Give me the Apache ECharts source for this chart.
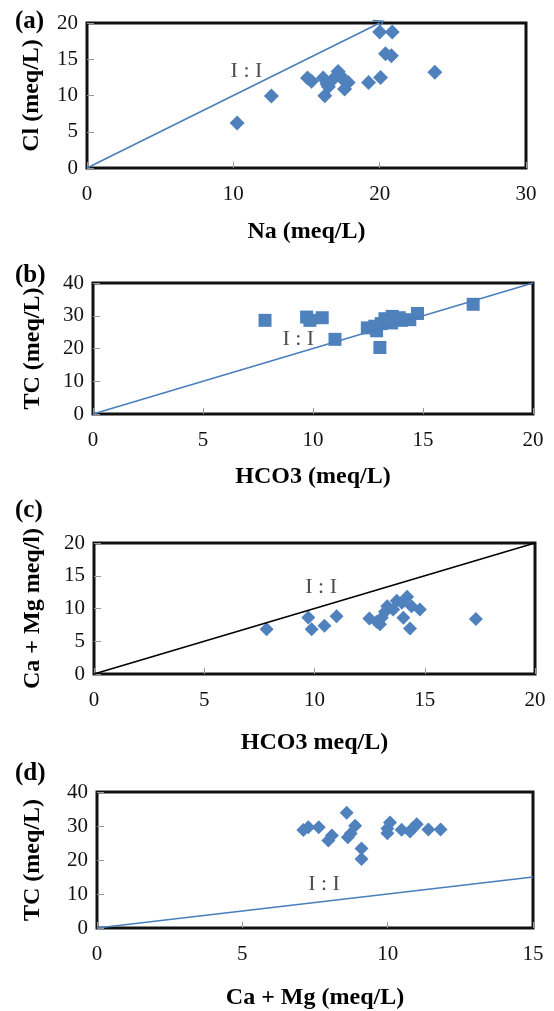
<!DOCTYPE html>
<html>
<head>
<meta charset="utf-8">
<script src="https://cdn.jsdelivr.net/npm/echarts@6/dist/echarts.min.js"></script>
<style>
  html, body { margin: 0; padding: 0; background: #fff; }
  #chart { width: 554px; height: 1011px; }
</style>
</head>
<body>
<div id="chart"></div>
<script>
// (a) Cl vs Na
const naA = [10.26, 12.6, 15.07, 15.34, 16.14, 16.25, 16.5, 16.8, 17.16, 17.5, 17.6, 17.85, 19.24, 20.06, 20.0, 20.86, 20.4, 20.8, 23.77, 16.4, 17.3];
const clA = [6.2, 9.93, 12.4, 11.95, 12.4, 9.98, 11.2, 12.2, 13.3, 12.2, 10.9, 11.8, 11.8, 12.5, 18.76, 18.76, 15.77, 15.5, 13.2, 11.6, 12.8];

// (b) TC vs HCO3
const hco3B = [7.82, 9.71, 9.86, 10.42, 11.0, 12.47, 12.81, 12.89, 13.04, 13.27, 13.57, 13.92, 14.02, 14.4, 14.75, 17.28, 13.1, 13.6];
const tcB = [28.6, 29.6, 28.6, 29.4, 22.8, 26.3, 26.8, 25.4, 20.3, 29.1, 27.8, 29.4, 28.6, 28.8, 30.7, 33.5, 27.6, 29.8];

// (c) Ca + Mg vs HCO3
const hco3C = [7.83, 9.72, 9.87, 10.45, 11.0, 12.49, 12.82, 12.97, 13.05, 13.2, 13.3, 13.57, 13.73, 13.96, 14.03, 14.2, 14.33, 14.4, 14.78, 17.32];
const camgC = [6.85, 8.63, 6.85, 7.36, 8.83, 8.48, 7.97, 7.6, 8.6, 9.5, 10.36, 9.85, 11.17, 10.86, 8.6, 11.78, 6.95, 10.36, 9.85, 8.38];

// (d) TC vs Ca + Mg
const camgD = [7.1, 7.27, 7.63, 7.96, 8.08, 8.59, 8.63, 8.73, 8.88, 9.1, 9.1, 9.99, 9.99, 10.08, 10.48, 10.77, 10.88, 11.0, 11.4, 11.82];
const tcD = [28.8, 29.6, 29.6, 25.7, 27.2, 33.9, 26.7, 27.8, 30.1, 23.4, 20.3, 27.9, 29.3, 31.0, 28.9, 28.4, 29.5, 30.5, 29.0, 29.0];

// Axis ranges [min, max, interval]
const xRanges = [[0, 30, 10], [0, 20, 5], [0, 20, 5], [0, 15, 5]];
const yRanges = [[0, 20, 5], [0, 40, 10], [0, 20, 5], [0, 40, 10]];
const xNames = ['Na (meq/L)', 'HCO3 (meq/L)', 'HCO3 meq/L)', 'Ca + Mg (meq/L)'];
const yNames = ['Cl (meq/L)', 'TC (meq/L)', 'Ca + Mg meq/l)', 'TC (meq/L)'];
const panelLabels = ['(a)', '(b)', '(c)', '(d)'];

// Reference line end points (from the origin) and "I : I" label anchors, in data units
const refLineEnd = [[20, 20], [20, 40], [20, 20], [15, 15]];
const ratioLabelAt = [[10.9, 13.3], [9.33, 22.7], [10.3, 13.2], [7.81, 12.95]];

const SERIF = 'Liberation Serif';
const BLUE = '#4f81bd';
const LINE_BLUE = '#4a7ebb';

const grids = [
  { left: 87, top: 23, width: 439, height: 145 },
  { left: 93, top: 283, width: 440, height: 131 },
  { left: 94, top: 543, width: 441, height: 131 },
  { left: 97, top: 792, width: 436, height: 141 }
];
const xNameGap = [22, 21, 27, 28];
const yNameGap = [43, 48, 49, 52];

const pointSets = [
  { x: naA, y: clA, symbol: 'diamond', size: 15 },
  { x: hco3B, y: tcB, symbol: 'rect', size: 13 },
  { x: hco3C, y: camgC, symbol: 'diamond', size: 14 },
  { x: camgD, y: tcD, symbol: 'diamond', size: 14 }
];
const lineColors = [LINE_BLUE, LINE_BLUE, '#000000', LINE_BLUE];

const chevron = 'path://M0,0 L6,9 L4.8,9.6 L0,2.4 L-4.8,9.6 L-6,9 Z';

const xAxis = [], yAxis = [], series = [];
grids.forEach((g, i) => {
  g.show = true;
  g.borderColor = '#111';
  g.borderWidth = 3;
  g.backgroundColor = '#fff';
  g.containLabel = false;
  xAxis.push({
    gridIndex: i, type: 'value',
    min: xRanges[i][0], max: xRanges[i][1], interval: xRanges[i][2],
    name: xNames[i], nameLocation: 'middle', nameGap: 0,
    nameTextStyle: { fontFamily: SERIF, fontWeight: 'bold', fontSize: 24, color: '#000', padding: [xNameGap[i] + 30, 0, 0, 0] },
    axisLine: { show: false },
    axisTick: { show: true, inside: true, length: 6, lineStyle: { color: '#999', width: 1 } },
    splitLine: { show: false },
    axisLabel: { fontFamily: SERIF, fontSize: 21, color: '#111', margin: 16 }
  });
  yAxis.push({
    gridIndex: i, type: 'value',
    min: yRanges[i][0], max: yRanges[i][1], interval: yRanges[i][2],
    name: yNames[i], nameLocation: 'middle', nameGap: yNameGap[i],
    nameTextStyle: { fontFamily: SERIF, fontWeight: 'bold', fontSize: 24, color: '#000' },
    axisLine: { show: false },
    axisTick: { show: true, inside: true, length: 7, lineStyle: { color: '#999', width: 1 } },
    splitLine: { show: false },
    axisLabel: { fontFamily: SERIF, fontSize: 21, color: '#111', margin: 9 }
  });

  const ps = pointSets[i];
  const end = refLineEnd[i];
  series.push({
    type: 'scatter', xAxisIndex: i, yAxisIndex: i,
    symbol: ps.symbol, symbolSize: ps.size,
    itemStyle: { color: BLUE, opacity: 1 },
    data: ps.x.map((v, k) => [v, ps.y[k]]),
    silent: true, z: 3,
    markLine: {
      silent: true, animation: false,
      symbol: i === 0 ? ['none', chevron] : ['none', 'none'],
      symbolSize: [12, 11],
      lineStyle: { color: lineColors[i], width: 1.6, type: 'solid' },
      label: { show: false },
      emphasis: { disabled: true },
      data: [[{ coord: [0, 0] }, { coord: end }]]
    }
  });
  series.push({
    type: 'scatter', xAxisIndex: i, yAxisIndex: i,
    symbolSize: 0, silent: true, z: 4,
    data: [ratioLabelAt[i]],
    label: {
      show: true, position: 'inside', formatter: 'I : I',
      fontFamily: SERIF, fontSize: 22, color: '#222'
    }
  });
});

const labelY = [23, 277, 512, 775];
const graphic = panelLabels.map((t, i) => ({
  type: 'text', left: 15, top: labelY[i] - 14,
  style: { text: t, font: 'bold 25px "Liberation Serif"', fill: '#000' }
}));

const chart = echarts.init(document.getElementById('chart'), null, { renderer: 'canvas' });
chart.setOption({
  animation: false,
  backgroundColor: '#fff',
  grid: grids,
  xAxis: xAxis,
  yAxis: yAxis,
  series: series,
  graphic: graphic
});
</script>
</body>
</html>
